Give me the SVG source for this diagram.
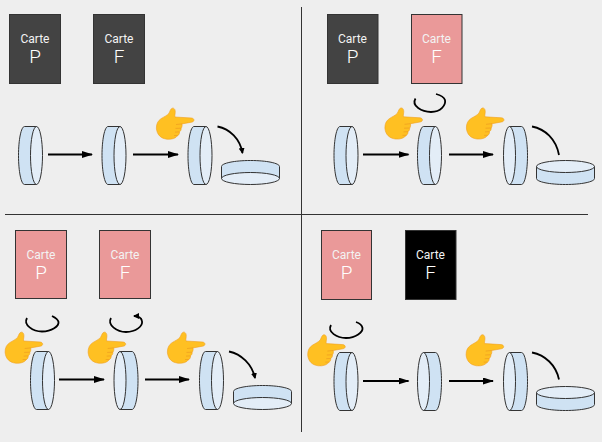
<svg xmlns="http://www.w3.org/2000/svg" width="602" height="442" viewBox="0 0 602 442">
<style>
.card{stroke:#333;stroke-width:1}
.dark{fill:#434343}.pink{fill:#ea9999}.black{fill:#000}
.t1{font:400 12px Roboto,"Liberation Sans",sans-serif;fill:#f3f3f3;text-anchor:middle}
.t2{font:300 19px Roboto,"Liberation Sans",sans-serif;fill:#fff;text-anchor:middle}
.div{stroke:#333;stroke-width:1;fill:none}
.arr{stroke:#000;stroke-width:1.800;fill:none}
.b{fill:#cfe2f3;stroke:#333;stroke-width:1}
.f{fill:#e3edf7;stroke:#333;stroke-width:1}
</style>
<defs>
<marker id="ah" markerUnits="userSpaceOnUse" markerWidth="12" markerHeight="9" refX="10" refY="3.500" orient="auto"><path d="M0,0L11,3.500L0,7Z" fill="#000"/></marker>
<marker id="ah2" markerUnits="userSpaceOnUse" markerWidth="8" markerHeight="8" refX="5" refY="3" orient="auto"><path d="M0,0L6,3L0,6Z" fill="#000"/></marker>
<g id="lensA"><path class="b" d="M6,0H18V58H6C2.700,58,0,45,0,29S2.700,0,6,0Z"/><ellipse class="f" cx="18" cy="29" rx="6" ry="29"/></g>
<g id="lensB"><path class="b" d="M6,0H18C21.300,0,24,13,24,29S21.300,58,18,58H6Z"/><ellipse class="f" cx="6" cy="29" rx="6" ry="29"/></g>
<g id="dishD"><path class="b" d="M0,6C0,2.700,13,0,29,0S58,2.700,58,6V18H0Z"/><ellipse class="f" cx="29" cy="18" rx="29" ry="6"/></g>
<g id="dishU"><path class="b" d="M0,6H58V18C58,21.300,45,24,29,24S0,21.300,0,18Z"/><ellipse class="f" cx="29" cy="6" rx="29" ry="6"/></g>
<g id="hand"><path fill="#ffc022" stroke="#f0a020" stroke-width=".6" d="M13,5.500C14,3.500,14.500,1,16.300,.5C18.500,0,19.500,2.500,19.200,5C19,7,18.600,8,19,9.300L35.500,10.300C38.800,10.800,38.800,14,35.500,14.500L26,16.200C26.300,18,26,19.500,25.200,20.500C25.300,22.300,24.500,23.500,23.500,24.200C23.600,26,22.800,27.300,21.800,27.800C20,30.500,16,32,11,31.500C5,30.800,.8,27,.4,20.500C.3,16,2,13,5,11C8,9,11,8,13,5.500Z"/><path fill="none" stroke="#ea961e" stroke-width=".6" d="M20,16.800L26,16.200M19.500,20.700L25,20.500M19,24.400L23.500,24.200M18,27.800L21.800,27.800"/></g>
</defs>
<rect width="602" height="442" fill="#eee"/>
<g id="dividers">
<path class="div" d="M301.500,7V432M5,214.500H588"/>
</g>
<g id="card-p1"><rect class="card dark" x="9.500" y="14.500" width="51" height="69"/><text class="t1" x="35" y="43">Carte</text><text class="t2" x="35" y="63">P</text></g>
<g id="card-f1"><rect class="card dark" x="93.500" y="14.500" width="51" height="69"/><text class="t1" x="119" y="43">Carte</text><text class="t2" x="119" y="63">F</text></g>
<g id="card-p2"><rect class="card dark" x="327.500" y="14.500" width="50.500" height="69"/><text class="t1" x="352.500" y="43">Carte</text><text class="t2" x="352.500" y="63">P</text></g>
<g id="card-f2"><rect class="card pink" x="411.500" y="14.500" width="50.500" height="69"/><text class="t1" x="436.500" y="43">Carte</text><text class="t2" x="436.500" y="63">F</text></g>
<g id="card-p3"><rect class="card pink" x="15.500" y="230.500" width="51" height="68"/><text class="t1" x="41" y="258.500">Carte</text><text class="t2" x="41" y="278.500">P</text></g>
<g id="card-f3"><rect class="card pink" x="99.500" y="230.500" width="51" height="68"/><text class="t1" x="125" y="258.500">Carte</text><text class="t2" x="125" y="278.500">F</text></g>
<g id="card-p4"><rect class="card pink" x="321.500" y="230.500" width="50" height="69"/><text class="t1" x="346.500" y="258.500">Carte</text><text class="t2" x="346.500" y="278.500">P</text></g>
<g id="card-f4"><rect class="card black" x="405.500" y="230.500" width="50.500" height="69"/><text class="t1" x="430.500" y="258.500">Carte</text><text class="t2" x="430.500" y="278.500">F</text></g>

<g id="lens-1a"><use href="#lensA" x="18.500" y="126.500"/></g>
<g id="lens-1b"><use href="#lensA" x="102" y="126.500"/></g>
<g id="lens-1c"><use href="#lensA" x="188" y="126.500"/></g>
<g id="dish-1"><use href="#dishD" x="221.500" y="160.500"/></g>
<g id="lens-2a"><use href="#lensA" x="334" y="126.500"/></g>
<g id="lens-2b"><use href="#lensA" x="417.500" y="126.500"/></g>
<g id="lens-2c"><use href="#lensB" x="503.500" y="126.500"/></g>
<g id="dish-2"><use href="#dishU" x="536.500" y="160.500"/></g>
<g id="lens-3a"><use href="#lensA" x="30.500" y="351.500"/></g>
<g id="lens-3b"><use href="#lensB" x="114" y="351.500"/></g>
<g id="lens-3c"><use href="#lensA" x="199.500" y="351.500"/></g>
<g id="dish-3"><use href="#dishD" x="233.500" y="385.500"/></g>
<g id="lens-4a"><use href="#lensA" x="334" y="352.500"/></g>
<g id="lens-4b"><use href="#lensB" x="417.500" y="352.500"/></g>
<g id="lens-4c"><use href="#lensB" x="503.500" y="352.500"/></g>
<g id="dish-4"><use href="#dishU" x="536.500" y="386.500"/></g>

<g id="connectors">
<path class="arr" marker-end="url(#ah)" d="M48,154.500H92"/>
<path class="arr" marker-end="url(#ah)" d="M133,154.500H178"/>
<path class="arr" marker-end="url(#ah)" d="M363,154.500H408.500"/>
<path class="arr" marker-end="url(#ah)" d="M449,154.500H493"/>
<path class="arr" marker-end="url(#ah)" d="M59,379.500H104"/>
<path class="arr" marker-end="url(#ah)" d="M145,379.500H189"/>
<path class="arr" marker-end="url(#ah)" d="M363,381H408.500"/>
<path class="arr" marker-end="url(#ah)" d="M449,381H493"/>
<path class="arr" marker-end="url(#ah2)" d="M217.500,126.500C230,129,240,139,242.500,153"/>
<path class="arr" d="M532,126.500C545,129,556,139,559,155"/>
<path class="arr" marker-end="url(#ah2)" d="M229,351.500C241,354,252,364,255,378"/>
<path class="arr" d="M532,352.500C545,355,556,365,559,379.500"/>
<path class="arr" d="M415.500,98.500C411,106,422,112,431,112C441,112,446,105,445,100C444,97,440,95,436,94"/>
<path class="arr" d="M27,318C23,325,33,331.500,42,331.500C52,331.500,59,326,58.500,322C58,319,55,317.500,52,316"/>
<path class="arr" marker-end="url(#ah2)" d="M111,318C107,325,117,332,126,332C136,332,143,326,142,321C141.500,318,138,316,134,316"/>
<path class="arr" d="M331,325C327,332,337,338,346,338C356,338,363,332,362.500,328C362,325,359,323,356,322"/>
</g>

<g id="hand-1"><use href="#hand" x="156" y="107.700"/></g>
<g id="hand-2a"><use href="#hand" x="384.500" y="107.500"/></g>
<g id="hand-2b"><use href="#hand" x="466" y="107.500"/></g>
<g id="hand-3a"><use href="#hand" x="4.700" y="331.700"/></g>
<g id="hand-3b"><use href="#hand" x="87.700" y="331.700"/></g>
<g id="hand-3c"><use href="#hand" x="167" y="331.700"/></g>
<g id="hand-4a"><use href="#hand" x="307.300" y="334.300"/></g>
<g id="hand-4b"><use href="#hand" x="465.700" y="334.300"/></g>
</svg>
